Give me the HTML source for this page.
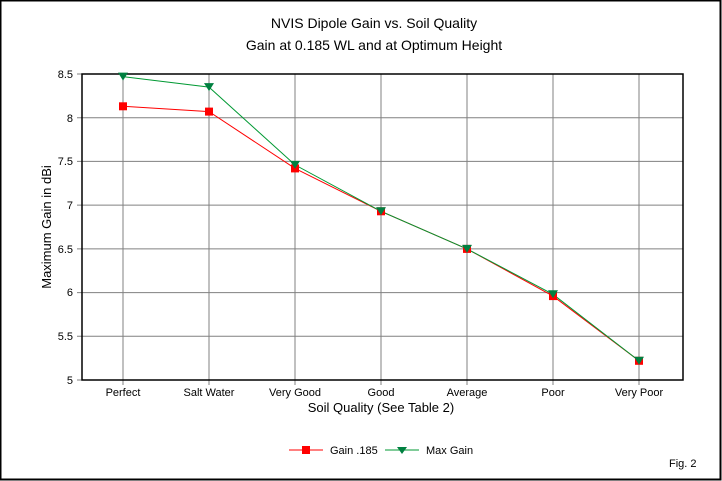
<!DOCTYPE html>
<html><head><style>body{margin:0;background:#fff}svg{display:block}text{font-family:"Liberation Sans",sans-serif;fill:#000}</style></head><body>
<svg width="722" height="481" xmlns="http://www.w3.org/2000/svg">
<rect x="0.5" y="0.5" width="720" height="479" fill="#fff" stroke="#000" stroke-width="2"/>
<text x="374" y="28" font-size="14" text-anchor="middle">NVIS Dipole Gain vs. Soil Quality</text>
<text x="374" y="50" font-size="14" text-anchor="middle">Gain at 0.185 WL and at Optimum Height</text>
<g stroke="#808080" stroke-width="1">
<line x1="77" y1="117.7" x2="683" y2="117.7"/><line x1="77" y1="161.4" x2="683" y2="161.4"/>
<line x1="77" y1="205.1" x2="683" y2="205.1"/><line x1="77" y1="248.9" x2="683" y2="248.9"/>
<line x1="77" y1="292.6" x2="683" y2="292.6"/><line x1="77" y1="336.3" x2="683" y2="336.3"/>
<line x1="77" y1="74" x2="82" y2="74"/><line x1="77" y1="380" x2="82" y2="380"/>
<line x1="123" y1="74" x2="123" y2="385"/><line x1="209" y1="74" x2="209" y2="385"/>
<line x1="295" y1="74" x2="295" y2="385"/><line x1="381" y1="74" x2="381" y2="385"/>
<line x1="467" y1="74" x2="467" y2="385"/><line x1="553" y1="74" x2="553" y2="385"/>
<line x1="639" y1="74" x2="639" y2="385"/>
</g>
<rect x="82" y="74" width="601" height="306" fill="none" stroke="#000" stroke-width="1.5"/>
<g font-size="11" text-anchor="end">
<text x="73" y="78">8.5</text><text x="73" y="122">8</text><text x="73" y="165">7.5</text>
<text x="73" y="209">7</text><text x="73" y="253">6.5</text><text x="73" y="296">6</text>
<text x="73" y="340">5.5</text><text x="73" y="384">5</text>
</g>
<g font-size="11" text-anchor="middle">
<text x="123" y="396">Perfect</text><text x="209" y="396">Salt Water</text><text x="295" y="396">Very Good</text>
<text x="381" y="396">Good</text><text x="467" y="396">Average</text><text x="553" y="396">Poor</text><text x="639" y="396">Very Poor</text>
</g>
<text x="381" y="412" font-size="13" text-anchor="middle">Soil Quality (See Table 2)</text>
<text transform="translate(51,227) rotate(-90)" font-size="13" text-anchor="middle">Maximum Gain in dBi</text>
<polyline fill="none" stroke="#ff0000" stroke-width="1" points="123,106.3 209,111.6 295,168.4 381,211.3 467,248.9 553,296.1 639,360.8"/>
<polyline fill="none" stroke="#009933" stroke-width="1" points="123,76.6 209,87.1 295,164.9 381,211.3 467,248.9 553,294.3 639,360.8"/>
<g fill="#ff0000">
<rect x="119" y="102.3" width="8" height="8"/><rect x="205" y="107.6" width="8" height="8"/>
<rect x="291" y="164.4" width="8" height="8"/><rect x="377" y="207.3" width="8" height="8"/>
<rect x="463" y="244.9" width="8" height="8"/><rect x="549" y="292.1" width="8" height="8"/>
<rect x="635" y="356.8" width="8" height="8"/>
</g>
<g fill="#008040">
<polygon points="118,72.6 128,72.6 123,80.6"/><polygon points="204,83.1 214,83.1 209,91.1"/>
<polygon points="290,160.9 300,160.9 295,168.9"/><polygon points="376,207.3 386,207.3 381,215.3"/>
<polygon points="462,244.9 472,244.9 467,252.9"/><polygon points="548,290.3 558,290.3 553,298.3"/>
<polygon points="634,356.8 644,356.8 639,364.8"/>
</g>
<line x1="289" y1="450" x2="323" y2="450" stroke="#ff0000"/>
<rect x="302" y="446" width="8" height="8" fill="#ff0000"/>
<text x="330" y="454" font-size="11">Gain .185</text>
<line x1="385" y1="450" x2="419" y2="450" stroke="#009933"/>
<polygon points="397,447 407,447 402,454" fill="#008040"/>
<text x="426" y="454" font-size="11">Max Gain</text>
<text x="669" y="467" font-size="11">Fig. 2</text>
</svg>
</body></html>
